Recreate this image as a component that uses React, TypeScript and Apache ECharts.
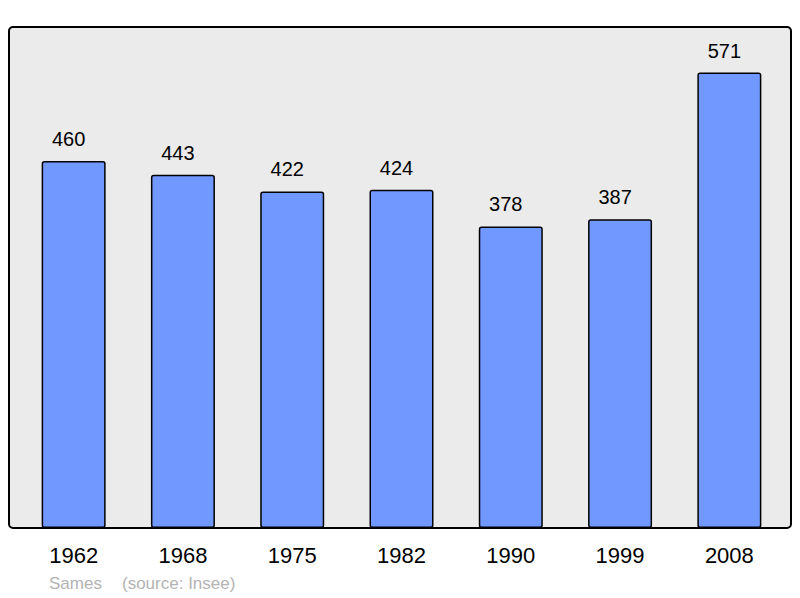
import React, { useEffect, useRef } from "react";
import * as echarts from "echarts";

const years = ["1962", "1968", "1975", "1982", "1990", "1999", "2008"];
const population = [460, 443, 422, 424, 378, 387, 571];
const placeName = "Sames";
const sourceText = "(source: Insee)";

export default function App() {
  const ref = useRef<HTMLDivElement>(null);
  useEffect(() => {
    document.body.style.margin = "0";
    const chart = echarts.init(ref.current!, null, { renderer: "svg" });
    const maxVal = Math.max(...population) * 1.1;
    chart.setOption({
      animation: false,
      backgroundColor: "#ffffff",
      textStyle: { fontFamily: "Liberation Sans, Arial, sans-serif" },
      graphic: [
        {
          type: "rect",
          z: -10,
          silent: true,
          shape: { x: 9, y: 27, width: 782, height: 501, r: 4 },
          style: { fill: "#ebebeb", stroke: "#000000", lineWidth: 2 },
        },
        {
          type: "text",
          x: 49,
          y: 575,
          style: {
            text: placeName,
            fill: "#b3b3b3",
            fontSize: 17,
            fontFamily: "Liberation Sans, Arial, sans-serif",
          },
        },
        {
          type: "text",
          x: 122,
          y: 575,
          style: {
            text: sourceText,
            fill: "#b3b3b3",
            fontSize: 17,
            fontFamily: "Liberation Sans, Arial, sans-serif",
          },
        },
      ],
      grid: { left: 19, top: 27, width: 765, height: 501 },
      xAxis: {
        type: "category",
        data: years,
        axisLine: { show: false },
        axisTick: { show: false },
        axisLabel: {
          fontSize: 22,
          color: "#000000",
          margin: 16,
          fontFamily: "Liberation Sans, Arial, sans-serif",
        },
      },
      yAxis: {
        type: "value",
        min: 0,
        max: maxVal,
        show: false,
        splitLine: { show: false },
      },
      series: [
        {
          type: "bar",
          data: population,
          barWidth: 64,
          itemStyle: {
            color: "#7098ff",
            borderColor: "#000000",
            borderWidth: 1.5,
            borderRadius: 2,
          },
          label: {
            show: true,
            position: "top",
            distance: 12,
            offset: [-5, 0],
            fontSize: 20,
            color: "#000000",
            fontFamily: "Liberation Sans, Arial, sans-serif",
          },
        },
      ],
    });
    return () => chart.dispose();
  }, []);
  return (
    <div
      ref={ref}
      style={{ position: "absolute", left: 0, top: 0, width: 800, height: 598 }}
    />
  );
}
